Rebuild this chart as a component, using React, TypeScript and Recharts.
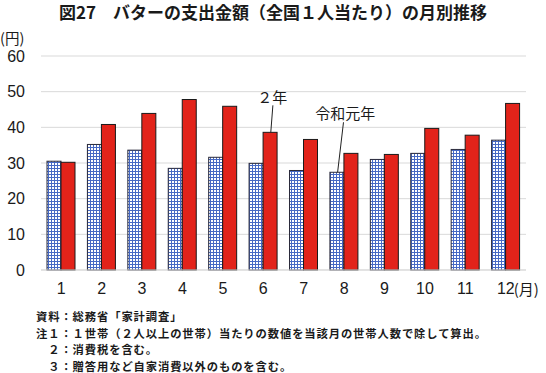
import { BarChart, Bar, XAxis, YAxis, CartesianGrid } from 'recharts';

const months = ['1', '2', '3', '4', '5', '6', '7', '8', '9', '10', '11', '12'];
const reiwa1 = [30.5, 35.2, 33.6, 28.5, 31.6, 29.9, 27.9, 27.4, 31.0, 32.7, 33.8, 36.4];
const reiwa2 = [30.2, 40.8, 43.9, 47.8, 45.9, 38.6, 36.6, 32.7, 32.4, 39.7, 37.8, 46.7];
const yTicks = [0, 10, 20, 30, 40, 50, 60];

const title = '図27　バターの支出金額（全国１人当たり）の月別推移';
const notes = [
  '資料：総務省「家計調査」',
  '注１：１世帯（２人以上の世帯）当たりの数値を当該月の世帯人数で除して算出。',
  '　２：消費税を含む。',
  '　３：贈答用など自家消費以外のものを含む。',
];

// label callouts: which month gets the series name
const reiwa1Note = { month: '8', text: '令和元年' };
const reiwa2Note = { month: '6', text: '２年' };

const data = months.map((m, i) => ({ month: m, r1: reiwa1[i], r2: reiwa2[i] }));

const jp = '"Noto Sans CJK JP", sans-serif';
const num = '"Liberation Sans", Arial, sans-serif';

function BlueBar(props: any) {
  const { x, y, width, height, payload } = props;
  return (
    <g>
      <rect x={x} y={y} width={width} height={height} fill="url(#checks)" stroke="#2a2a3a" strokeWidth={1} />
      {payload.month === reiwa1Note.month && (
        <g>
          <line x1={x + width * 0.55} y1={y} x2={x + width * 0.97} y2={y - 50} stroke="#222" strokeWidth={1} />
          <text x={x + width * 1.1} y={y - 53} textAnchor="middle" fontSize={15} fontFamily={jp} fill="#1a1a1a">
            {reiwa1Note.text}
          </text>
        </g>
      )}
    </g>
  );
}

function RedBar(props: any) {
  const { x, y, width, height, payload } = props;
  return (
    <g>
      <rect x={x} y={y} width={width} height={height} fill="#e2231a" stroke="#1a1a1a" strokeWidth={1} />
      {payload.month === reiwa2Note.month && (
        <g>
          <line x1={x + width * 0.55} y1={y} x2={x + width * 0.7} y2={y - 27} stroke="#222" strokeWidth={1} />
          <text x={x + width * 0.65} y={y - 29} textAnchor="middle" fontSize={15} fontFamily={jp} fill="#1a1a1a">
            {reiwa2Note.text}
          </text>
        </g>
      )}
    </g>
  );
}

function MonthTick(props: any) {
  const { x, y, payload } = props;
  const last = payload.value === months[months.length - 1];
  return (
    <g>
      <text x={x} y={y} dy="0.71em" textAnchor="middle" fontSize={16} fontFamily={num} fill="#1a1a1a">
        {payload.value}
      </text>
      {last && (
        <text x={x + 8} y={y} dy="0.8em" textAnchor="start" fontSize={15} fontFamily={jp} fill="#1a1a1a">
          (月)
        </text>
      )}
    </g>
  );
}

export default function App() {
  return (
    <div style={{ position: 'absolute', left: 0, top: 0, width: 546, height: 373, background: '#fff', overflow: 'hidden' }}>
      <div
        style={{
          position: 'absolute',
          top: 2,
          left: 20,
          right: 20,
          textAlign: 'center',
          fontFamily: jp,
          fontWeight: 700,
          fontSize: 17,
          lineHeight: '20px',
          color: '#1a1a1a',
          whiteSpace: 'nowrap',
        }}
      >
        {title}
      </div>
      <div style={{ position: 'absolute', left: 0, top: 28, fontFamily: jp, fontSize: 14.5, lineHeight: '20px', color: '#1a1a1a' }}>
        (円)
      </div>
      <BarChart
        width={546}
        height={300}
        data={data}
        margin={{ top: 56, right: 20, left: 0, bottom: 0 }}
        barGap={0}
        barSize={14}
      >
        <defs>
          <pattern id="checks" width="3" height="3" patternUnits="userSpaceOnUse">
            <rect width="3" height="3" fill="#ffffff" />
            <path d="M0 0.5H3M0.5 0V3" stroke="#4669c4" strokeWidth={1} />
          </pattern>
        </defs>
        <CartesianGrid vertical={false} stroke="#d9d9d9" />
        <XAxis
          dataKey="month"
          height={30}
          axisLine={{ stroke: '#d9d9d9' }}
          tickLine={false}
          tickSize={0}
          tickMargin={13}
          interval={0}
          tick={<MonthTick />}
        />
        <YAxis
          width={41}
          domain={[0, 60]}
          ticks={yTicks}
          axisLine={false}
          tickLine={false}
          tickSize={0}
          tickMargin={16}
          tick={{ fontSize: 16, fontFamily: num, fill: '#1a1a1a' }}
        />
        <Bar dataKey="r1" name="令和元年" shape={<BlueBar />} isAnimationActive={false} />
        <Bar dataKey="r2" name="２年" shape={<RedBar />} isAnimationActive={false} />
      </BarChart>
      <div
        style={{
          position: 'absolute',
          left: 36,
          top: 308,
          fontFamily: jp,
          fontWeight: 700,
          fontSize: 11.3,
          letterSpacing: 0.9,
          lineHeight: '16.5px',
          color: '#1a1a1a',
          whiteSpace: 'pre',
        }}
      >
        {notes.map((n) => (
          <div key={n}>{n}</div>
        ))}
      </div>
    </div>
  );
}
